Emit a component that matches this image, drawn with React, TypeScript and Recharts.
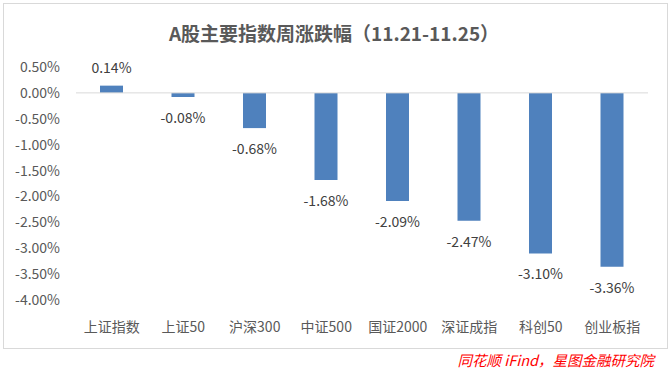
import React from "react";
import { BarChart, Bar, XAxis, YAxis, ReferenceLine, LabelList } from "recharts";

const categories = ["上证指数", "上证50", "沪深300", "中证500", "国证2000", "深证成指", "科创50", "创业板指"];
const changes = [0.14, -0.08, -0.68, -1.68, -2.09, -2.47, -3.1, -3.36];
const yTicks = [0.5, 0, -0.5, -1, -1.5, -2, -2.5, -3, -3.5, -4];
const title = "A股主要指数周涨跌幅（11.21-11.25）";
const source = "同花顺 iFind，星图金融研究院";

const data = categories.map((name, i) => ({ name, value: changes[i] }));

const FONT = '"Noto Sans CJK SC", "Noto Sans", sans-serif';

const YTick = (props: any) => {
  const { x, y, payload } = props;
  return (
    <text x={x} y={y} dy={5} textAnchor="end" fontSize={14} fill="#595959" fontFamily={FONT}>
      {payload.value.toFixed(2) + "%"}
    </text>
  );
};

const XTick = (props: any) => {
  const { x, y, payload } = props;
  return (
    <text x={x} y={y} dy={5} textAnchor="middle" fontSize={14} fill="#595959" fontFamily={FONT}>
      {payload.value}
    </text>
  );
};

const BarLabel = (props: any) => {
  const { x, y, width, height, value } = props;
  const top = Math.min(y, y + height);
  const bottom = Math.max(y, y + height);
  const cx = x + width / 2;
  const ty = value >= 0 ? top - 18 : bottom + 21;
  return (
    <text x={cx} y={ty} dy={5} textAnchor="middle" fontSize={14} fill="#404040" fontFamily={FONT}>
      {value.toFixed(2) + "%"}
    </text>
  );
};

export default function App() {
  return (
    <div style={{ position: "absolute", left: 0, top: 0, width: 671, height: 371, background: "#fff" }}>
      <div
        style={{
          position: "absolute",
          left: 3,
          top: 3,
          width: 663,
          height: 344,
          border: "1px solid #d9d9d9",
        }}
      />
      <div
        style={{
          position: "absolute",
          left: 0,
          top: 20,
          width: 668,
          textAlign: "center",
          fontFamily: FONT,
          fontWeight: 700,
          fontSize: 19,
          color: "#595959",
          lineHeight: "26px",
          whiteSpace: "nowrap",
        }}
      >
        {title}
      </div>
      <div style={{ position: "absolute", left: 0, top: 0 }}>
        <BarChart
          width={671}
          height={371}
          data={data}
          margin={{ top: 67, right: 23, bottom: 41, left: 16 }}
        >
          <XAxis
            dataKey="name"
            axisLine={false}
            tickLine={false}
            tick={<XTick />}
            tickSize={0}
            tickMargin={27}
            height={30}
            interval={0}
          />
          <YAxis
            domain={[-4, 0.5]}
            ticks={yTicks}
            axisLine={false}
            tickLine={false}
            tick={<YTick />}
            tickSize={0}
            tickMargin={16}
            width={60}
            interval={0}
          />
          <ReferenceLine y={0} stroke="#d9d9d9" strokeWidth={1} />
          <Bar dataKey="value" fill="#4F81BD" barSize={23} isAnimationActive={false}>
            <LabelList dataKey="value" content={<BarLabel />} />
          </Bar>
        </BarChart>
      </div>
      <div
        style={{
          position: "absolute",
          right: 17,
          top: 350,
          fontFamily: FONT,
          fontStyle: "italic",
          fontSize: 14.5,
          color: "#ff0000",
          lineHeight: "20px",
          whiteSpace: "nowrap",
        }}
      >
        {source}
      </div>
    </div>
  );
}
